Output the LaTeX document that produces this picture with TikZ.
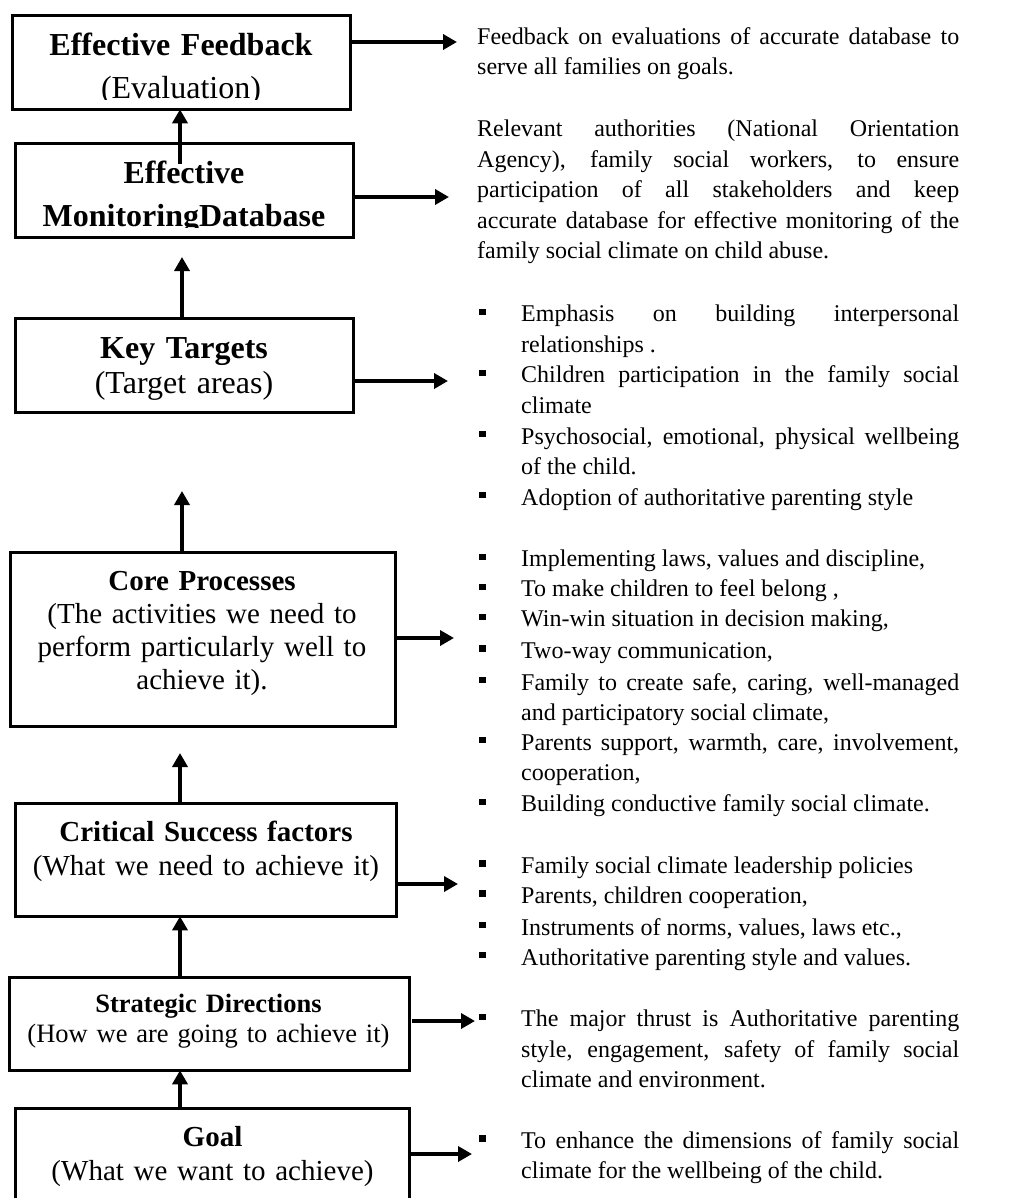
\documentclass[tikz,border=0pt]{standalone}
\usepackage{fontspec}
\setmainfont{Liberation Serif}
\usetikzlibrary{arrows.meta}
\tolerance=10000 \hbadness=10000 \hyphenpenalty=10000 \exhyphenpenalty=10000
\begin{document}
\begin{tikzpicture}[x=1pt,y=-1pt,
  box/.style={draw, line width=3.4pt, inner sep=0pt, outer sep=0pt},
  arr/.style={line width=4pt, -{Triangle[length=14pt,width=15pt]}},
  btxt/.style={anchor=base, align=center, inner sep=0pt, text width=390pt},
  para/.style={anchor=base west, text width=482pt, align=justify, inner sep=0pt, font=\fontsize{24}{30.5}\selectfont},
  itm/.style={para, text width=438pt},
  bul/.style={fill, minimum size=6.4pt, inner sep=0pt}]
\clip (0,0) rectangle (1014,1198);
\fill[white] (0,0) rectangle (1014,1198);
% boxes
\node[box, minimum width=337.6pt, minimum height=93.6pt] (f) at (181.5,62.5) {};
\node[box, minimum width=337.6pt, minimum height=93.6pt] (m) at (184.5,190.5) {};
\node[box, minimum width=337.6pt, minimum height=93.6pt] (k) at (184.5,365.5) {};
\node[box, minimum width=384.6pt, minimum height=173.6pt] (c) at (203,639.5) {};
\node[box, minimum width=380.6pt, minimum height=112.6pt] (s) at (206,860) {};
\node[box, minimum width=399.6pt, minimum height=92.6pt] (d) at (209.5,1024) {};
\node[box, minimum width=393.6pt, minimum height=104.6pt] (g) at (212.5,1161) {};
% box texts
\begin{scope}
\clip (13,16) rectangle (350,99.5);
\node[btxt, font=\fontsize{32}{42.3}\selectfont] (ft) at (181,56) {\textbf{Effective Feedback}\\(Evaluation)};
\end{scope}
\begin{scope}
\clip (16,144) rectangle (353,228);
\node[btxt, font=\fontsize{32}{43.4}\selectfont\bfseries] (mt) at (184,183.3) {Effective\\MonitoringDatabase};
\end{scope}
\node[btxt, font=\fontsize{32}{35}\selectfont] (kt) at (184,358.3) {\textbf{Key Targets}\\(Target areas)};
\node[btxt, font=\fontsize{29}{33}\selectfont] (ct) at (202,590.7) {\textbf{Core Processes}\\(The activities we need to\\perform particularly well to\\achieve it).};
\node[btxt, font=\fontsize{29}{33.3}\selectfont] (st) at (206,841.7) {\textbf{Critical Success factors}\\(What we need to achieve it)};
\node[btxt, font=\fontsize{26.5}{30}\selectfont] (dt) at (208.5,1012.7) {\textbf{Strategic Directions}\\(How we are going to achieve it)};
\node[btxt, font=\fontsize{29}{34}\selectfont] (gt) at (212.5,1146) {\textbf{Goal}\\(What we want to achieve)};
% vertical arrows
\coordinate (a1) at (180,164);
\coordinate (tB) at (182,257);
\coordinate (tC) at (182,491);
\coordinate (tD) at (180,753);
\coordinate (tE) at (180,0);
\draw[arr] (a1) -- (a1 |- f.south);
\draw[arr] (k.north -| tB) -- (tB);
\draw[arr] (c.north -| tC) -- (tC);
\draw[arr] (s.north -| tD) -- (tD);
\draw[arr] (d.north -| tE) -- (s.south -| tE);
\draw[arr] (g.north -| tE) -- (d.south -| tE);
% horizontal arrows
\coordinate (h1) at (457,42);
\coordinate (h2) at (449,197);
\coordinate (h3) at (448,381);
\coordinate (h4) at (454,638);
\coordinate (h5) at (458,884);
\coordinate (h6) at (475,1021);
\coordinate (h7) at (472,1154);
\draw[arr] (f.east |- h1) -- (h1);
\draw[arr] (m.east |- h2) -- (h2);
\draw[arr] (k.east |- h3) -- (h3);
\draw[arr] (c.east |- h4) -- (h4);
\draw[arr] (s.east |- h5) -- (h5);
\draw[arr, shorten <=3pt] (d.east |- h6) -- (h6);
\draw[arr] (g.east |- h7) -- (h7);
% right texts
\node[para] (p1) at (477,44.3) {Feedback on evaluations of accurate database to\linebreak serve all families on goals.};
\node[para] (p2) at (477,136.7) {Relevant authorities (National Orientation\linebreak Agency), family social workers, to ensure\linebreak participation of all stakeholders and keep\linebreak accurate database for effective monitoring of the\linebreak family social climate on child abuse.};
\node[itm] (i1) at (521,321.7) {Emphasis on building interpersonal\linebreak relationships .};
\node[itm] (i2) at (521,382.7) {Children participation in the family social\linebreak climate};
\node[itm] (i3) at (521,444) {Psychosocial, emotional, physical wellbeing\linebreak of the child.};
\node[itm] (i4) at (521,505) {Adoption of authoritative parenting style};
\node[itm] (i5) at (521,566.7) {Implementing laws, values and discipline,};
\node[itm] (i6) at (521,596.7) {To make children to feel belong ,};
\node[itm] (i7) at (521,626.7) {Win-win situation in decision making,};
\node[itm] (i8) at (521,658.3) {Two-way communication,};
\node[itm] (i9) at (521,690) {Family to create safe, caring, well-managed\linebreak and participatory social climate,};
\node[itm] (i10) at (521,750) {Parents support, warmth, care, involvement,\linebreak cooperation,};
\node[itm] (i11) at (521,811.7) {Building conductive family social climate.};
\node[itm] (i12) at (521,873.3) {Family social climate leadership policies};
\node[itm] (i13) at (521,903.3) {Parents, children cooperation,};
\node[itm] (i14) at (521,935) {Instruments of norms, values, laws etc.,};
\node[itm] (i15) at (521,965) {Authoritative parenting style and values.};
\node[itm] (i16) at (521,1026.7) {The major thrust is Authoritative parenting\linebreak style, engagement, safety of family social\linebreak climate and environment.};
\node[itm] (i17) at (521,1148.3) {To enhance the dimensions of family social\linebreak climate for the wellbeing of the child.};
% bullets
\foreach \n/\yy in {1/321.7,2/382.7,3/444,4/505,5/566.7,6/596.7,7/626.7,8/658.3,9/690,10/750,11/811.7,12/873.3,13/903.3,14/935,15/965,16/1026.7,17/1148.3}
  \node[bul] (b\n) at (482.5,\yy-10) {};
\end{tikzpicture}
\end{document}
